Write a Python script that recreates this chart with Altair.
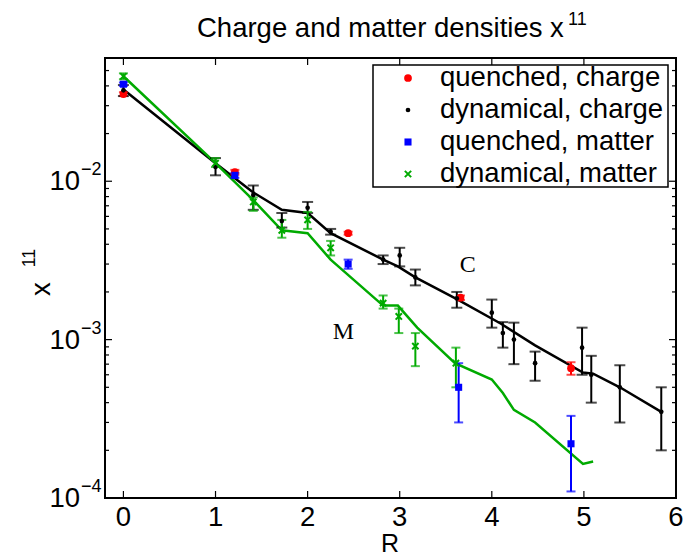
import altair as alt
import pandas as pd

FONT = "Liberation Sans"
FS = 27.5

# ---- data -------------------------------------------------------------
series_names = ["quenched, charge", "dynamical, charge", "quenched, matter", "dynamical, matter"]
series_colors = ["#ff0000", "#000000", "#0000ff", "#00aa00"]

# quenched, charge
qc_r = [0.0, 1.21, 2.44, 3.66, 4.86]
qc_v = [0.0355, 0.0114, 0.0047, 0.00184, 0.00066]
qc_lo = [0.0345, 0.0110, 0.0046, 0.00178, 0.00060]
qc_hi = [0.0365, 0.0118, 0.0048, 0.00190, 0.00072]

# dynamical, charge
dc_r = [0.0, 1.0, 1.41, 1.72, 2.0, 2.25, 2.82, 3.0, 3.17, 3.62, 4.0, 4.12, 4.24, 4.47, 4.98, 5.08, 5.39, 5.84]
dc_v = [0.0375, 0.0123, 0.0082, 0.0056, 0.0068, 0.0048, 0.0032, 0.0034, 0.00247, 0.00182,
        0.00148, 0.0011, 0.0010, 0.00071, 0.00089, 0.0006, 0.0005, 0.00035]
dc_lo = [0.0345, 0.0109, 0.0066, 0.0051, 0.0063, 0.0046, 0.0030, 0.0029, 0.0022, 0.00159,
         0.00119, 0.00089, 0.0007, 0.00055, 0.0006, 0.0004, 0.0003, 0.0002]
dc_hi = [0.0405, 0.0140, 0.0094, 0.0063, 0.0074, 0.0050, 0.0034, 0.0038, 0.00277, 0.0020,
         0.00179, 0.00129, 0.00128, 0.00084, 0.00119, 0.00079, 0.00069, 0.0005]

# quenched, matter
qm_r = [0.0, 1.21, 2.44, 3.64, 4.86]
qm_v = [0.041, 0.0109, 0.0030, 0.0005, 0.00022]
qm_lo = [0.040, 0.0105, 0.0028, 0.0003, 0.00011]
qm_hi = [0.042, 0.0113, 0.0032, 0.00071, 0.00033]

# dynamical, matter
dm_r = [0.0, 1.0, 1.41, 1.72, 2.0, 2.25, 2.82, 2.99, 3.17, 3.61]
dm_v = [0.046, 0.013, 0.0074, 0.0049, 0.0057, 0.0038, 0.0017, 0.0014, 0.00091, 0.00071]
dm_lo = [0.044, 0.0123, 0.0065, 0.0044, 0.0050, 0.0034, 0.00157, 0.0011, 0.00068, 0.0005]
dm_hi = [0.048, 0.0140, 0.0079, 0.0057, 0.0064, 0.0042, 0.0019, 0.00157, 0.0011, 0.00089]

# fitted curves
c_curve_r = [0.0, 1.0, 1.41, 1.72, 2.0, 2.25, 2.82, 2.98, 3.17, 3.62, 4.1, 4.47, 4.99, 5.1, 5.39, 5.84]
c_curve_v = [0.038, 0.013, 0.0085, 0.0066, 0.0063, 0.0047, 0.0032, 0.0029, 0.00247, 0.0018,
             0.00126, 0.00092, 0.00062, 0.00061, 0.0005, 0.00035]
m_curve_r = [0.0, 1.0, 1.41, 1.72, 2.0, 2.25, 2.82, 2.98, 3.19, 3.6, 4.0, 4.12, 4.24, 4.47, 4.99, 5.1]
m_curve_v = [0.046, 0.013, 0.0076, 0.0049, 0.0047, 0.0032, 0.00164, 0.00164, 0.00119, 0.00071,
             0.00056, 0.00046, 0.00036, 0.0003, 0.000164, 0.00017]

# axes
x_ticks = [0, 1, 2, 3, 4, 5, 6]
x_tick_labels = ["0", "1", "2", "3", "4", "5", "6"]
y_major = [1e-4, 1e-3, 1e-2]
y_major_exp = ["\u22124", "\u22123", "\u22122"]
y_minor = [k * 1e-4 for k in range(2, 10)] + [k * 1e-3 for k in range(2, 10)] + [k * 1e-2 for k in range(2, 6)]

# curve labels
tag_text = ["C", "M"]
tag_r = [3.74, 2.39]
tag_v = [0.00294, 0.00111]

W, H = 571, 440
xs = alt.Scale(domain=[-0.2, 6], nice=False, zero=False)
ys = alt.Scale(type="log", domain=[1e-4, 0.06], nice=False)


def XF(field):
    return alt.X(field, type="quantitative", scale=xs, axis=None)


def YF(field):
    return alt.Y(field, type="quantitative", scale=ys, axis=None)


def frame(r, v, lo=None, hi=None):
    d = {"r": r, "v": v}
    if lo is not None:
        d["lo"] = lo
        d["hi"] = hi
    return pd.DataFrame(d)


def label(text, x, y, size=FS, **kw):
    return alt.Chart(pd.DataFrame({"t": [text]})).mark_text(
        font=FONT, fontSize=size, color="black", **kw).encode(
        x=alt.value(x), y=alt.value(y), text="t:N")


# ---- ticks and tick labels --------------------------------------------
xt = pd.DataFrame({"r": x_ticks, "t": x_tick_labels})
ticks_bottom = alt.Chart(xt).mark_rule(color="black", strokeWidth=1.2).encode(
    x=XF("r"), y=alt.value(H), y2=alt.value(H - 7))
ticks_top = alt.Chart(xt).mark_rule(color="black", strokeWidth=1.2).encode(
    x=XF("r"), y=alt.value(0), y2=alt.value(7))
xlab = alt.Chart(xt).mark_text(font=FONT, fontSize=FS, align="center", baseline="top",
                               color="black").encode(
    x=XF("r"), y=alt.value(H + 6), text="t:N")

ymj = pd.DataFrame({"v": y_major, "e": y_major_exp, "b": ["10"] * len(y_major)})
ymn = pd.DataFrame({"v": y_minor})
yt_layers = []
for df, ln in ((ymj, 7), (ymn, 4)):
    yt_layers.append(alt.Chart(df).mark_rule(color="black", strokeWidth=1.2).encode(
        y=YF("v"), x=alt.value(0), x2=alt.value(ln)))
    yt_layers.append(alt.Chart(df).mark_rule(color="black", strokeWidth=1.2).encode(
        y=YF("v"), x=alt.value(W), x2=alt.value(W - ln)))

ylab_base = alt.Chart(ymj).mark_text(font=FONT, fontSize=FS, align="right", baseline="middle",
                                     dy=1, color="black").encode(
    y=YF("v"), x=alt.value(-25), text="b:N")
ylab_exp = alt.Chart(ymj).mark_text(font=FONT, fontSize=18, align="left", baseline="middle",
                                    dy=-11, color="black").encode(
    y=YF("v"), x=alt.value(-24), text="e:N")

# ---- curves -----------------------------------------------------------
c_line = alt.Chart(frame(c_curve_r, c_curve_v)).mark_line(color="black", strokeWidth=2.5).encode(
    x=XF("r"), y=YF("v"))
m_line = alt.Chart(frame(m_curve_r, m_curve_v)).mark_line(color="#00aa00", strokeWidth=2.5).encode(
    x=XF("r"), y=YF("v"))

# ---- error bars and symbols -------------------------------------------
series_data = [
    (qc_r, qc_v, qc_lo, qc_hi),
    (dc_r, dc_v, dc_lo, dc_hi),
    (qm_r, qm_v, qm_lo, qm_hi),
    (dm_r, dm_v, dm_lo, dm_hi),
]
cap_widths = [9, 11, 9, 9]
# (shape, size, filled) for each series
symbol_styles = [("circle", 60, True), ("circle", 22, True), ("square", 50, True),
                 ("M-1,-1L1,1M-1,1L1,-1", 40, False)]

bar_layers = []
point_layers = []
for (r, v, lo, hi), col, cap, (shp, sz, fl) in zip(series_data, series_colors, cap_widths, symbol_styles):
    df = frame(r, v, lo, hi)
    bar_layers.append(alt.Chart(df).mark_rule(color=col, strokeWidth=2).encode(
        x=XF("r"), y=YF("lo"), y2="hi:Q"))
    for f in ("lo", "hi"):
        bar_layers.append(alt.Chart(df).mark_tick(color=col, orient="horizontal", size=cap,
                                                  thickness=2).encode(x=XF("r"), y=YF(f)))
    point_layers.append(alt.Chart(df).mark_point(shape=shp, size=sz, filled=fl, color=col,
                                                 opacity=1, strokeWidth=2).encode(
        x=XF("r"), y=YF("v")))

# ---- legend box -------------------------------------------------------
legend_layers = [alt.Chart(pd.DataFrame({"k": [0]})).mark_rect(
    fill="white", stroke="black", strokeWidth=1.5).encode(
    x=alt.value(268), x2=alt.value(563), y=alt.value(7), y2=alt.value(129))]
for i, (name, col, (shp, sz, fl)) in enumerate(zip(series_names, series_colors, symbol_styles)):
    row = pd.DataFrame({"t": [name]})
    py = 20 + 32 * i
    legend_layers.append(alt.Chart(row).mark_point(shape=shp, size=sz, filled=fl, color=col,
                                                   opacity=1, strokeWidth=2).encode(
        x=alt.value(303), y=alt.value(py)))
    legend_layers.append(alt.Chart(row).mark_text(font=FONT, fontSize=FS, align="left",
                                                  baseline="middle", color="black").encode(
        x=alt.value(335), y=alt.value(py), text="t:N"))

# ---- curve tags -------------------------------------------------------
tags = alt.Chart(pd.DataFrame({"r": tag_r, "v": tag_v, "t": tag_text})).mark_text(
    font="Liberation Serif", fontSize=24, color="black").encode(
    x=XF("r"), y=YF("v"), text="t:N")

# ---- titles -----------------------------------------------------------
title_main = label("Charge and matter densities x", 92, -21, align="left", baseline="alphabetic")
title_exp = label("11", 463, -33, size=18, align="left", baseline="alphabetic")
xtitle = label("R", 285, 486, size=25, align="center", baseline="middle")
ytitle_main = label("x", -63, 231, angle=270, align="center", baseline="middle")
ytitle_exp = label("11", -75, 200, size=18, angle=270, align="center", baseline="middle")

chart = alt.layer(
    ticks_bottom, ticks_top, *yt_layers,
    c_line, m_line, *bar_layers, *point_layers, tags,
    *legend_layers,
    xlab, ylab_base, ylab_exp, title_main, title_exp, xtitle, ytitle_main, ytitle_exp,
).properties(
    width=W, height=H,
    background="white",
    autosize=alt.AutoSizeParams(type="none"),
    padding={"left": 105, "top": 58, "right": 8, "bottom": 59},
).configure_view(
    stroke="black", strokeWidth=2, fill="white"
)

chart.save("out.html", embed_options={"renderer": "svg", "actions": False})
